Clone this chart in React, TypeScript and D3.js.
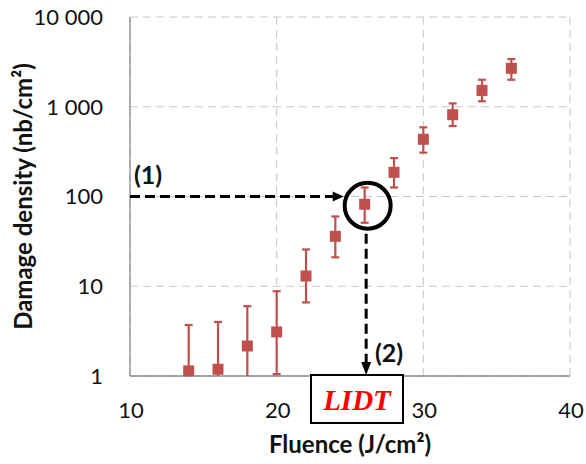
import React from "react";
import * as d3 from "d3";

// Fluence (J/cm²) of each test site and the measured damage density (nb/cm²)
const fluence = [14, 16, 18, 20, 22, 24, 26, 28, 30, 32, 34, 36];
const density = [1.14, 1.19, 2.16, 3.1, 13.0, 36, 82, 186, 434, 815, 1520, 2680];
const densityHigh = [3.7, 4.0, 6.0, 8.8, 25.7, 60, 126, 268, 590, 1090, 2000, 3400];
const densityLow = [0.5, 0.5, 0.5, 1.05, 6.6, 21, 51, 126, 308, 610, 1150, 2000];

const xTicks = [10, 20, 30, 40];
const yTicks = [1, 10, 100, 1000, 10000];

// Threshold read-out: density level (1) projected down to the fluence axis (2)
const thresholdDensity = 100;
const thresholdFluence = 26;

const W = 586;
const H = 464;
const M = { left: 130, right: 570, top: 17, bottom: 376 };

const RED = "#C0504D";
const GRID = "#C8C8C8";
const AXIS = "#8C8C8C";

export default function App() {
  const x = d3.scaleLinear().domain([10, 40]).range([M.left, M.right]);
  const y = d3.scaleLog().domain([1, 10000]).range([M.bottom, M.top]);
  const fmt = (v: number) => d3.format(",")(v).replace(/,/g, " ");

  const ay = y(thresholdDensity);
  const ax = x(thresholdFluence) + 1.5;
  const cx = x(thresholdFluence) + 3;
  const cy = y(density[fluence.indexOf(thresholdFluence)]) + 1.5;
  const r = 23;

  return (
    <div style={{ position: "absolute", left: 0, top: 0 }}>
      <svg width={W} height={H} style={{ display: "block", background: "#fff" }}>
        <defs>
          <clipPath id="plot-clip">
            <rect x={M.left} y={M.top - 5} width={M.right - M.left} height={M.bottom - M.top + 5} />
          </clipPath>
        </defs>

        {/* dashed grid */}
        {yTicks.map((t) => (
          <line key={"gy" + t} x1={M.left} x2={M.right} y1={y(t)} y2={y(t)}
            stroke={GRID} strokeWidth={1} strokeDasharray="8,5" />
        ))}
        {xTicks.map((t) => (
          <line key={"gx" + t} x1={x(t)} x2={x(t)} y1={M.top} y2={M.bottom}
            stroke={GRID} strokeWidth={1} strokeDasharray="8,5" />
        ))}

        {/* axes */}
        <line x1={M.left} x2={M.left} y1={M.top} y2={M.bottom} stroke={AXIS} strokeWidth={1.3} />
        <line x1={M.left} x2={M.right} y1={M.bottom} y2={M.bottom} stroke={AXIS} strokeWidth={1.3} />

        {/* tick labels */}
        {yTicks.map((t) => (
          <text key={"ty" + t} x={103} y={y(t)} dy="0.36em" textAnchor="end"
            fontFamily="Lato" fontSize={22} fill="#111">{fmt(t)}</text>
        ))}
        {xTicks.map((t) => (
          <text key={"tx" + t} x={x(t) + 1} y={418} textAnchor="middle"
            fontFamily="Lato" fontSize={22} fill="#111">{t}</text>
        ))}

        {/* axis titles */}
        <text x={(M.left + M.right) / 2} y={453} textAnchor="middle"
          fontFamily="Lato" fontWeight="bold" fontSize={24} fill="#111">Fluence (J/cm²)</text>
        <text transform={`translate(32,${(M.top + M.bottom) / 2}) rotate(-90)`} textAnchor="middle"
          fontFamily="Lato" fontWeight="bold" fontSize={24} fill="#111">Damage density (nb/cm²)</text>

        {/* error bars */}
        <g clipPath="url(#plot-clip)" stroke={RED} strokeWidth={2.2}>
          {fluence.map((f, i) => {
            const px = x(f);
            return (
              <g key={"e" + f}>
                <line x1={px} x2={px} y1={y(densityHigh[i])} y2={y(densityLow[i])} />
                <line x1={px - 4} x2={px + 4} y1={y(densityHigh[i])} y2={y(densityHigh[i])} />
                <line x1={px - 4} x2={px + 4} y1={y(densityLow[i])} y2={y(densityLow[i])} />
              </g>
            );
          })}
        </g>

        {/* markers */}
        {fluence.map((f, i) => (
          <rect key={"m" + f} x={x(f) - 5.5} y={y(density[i]) - 5.5} width={11} height={11} fill={RED} />
        ))}

        {/* (1) horizontal read-out arrow */}
        <line x1={M.left} x2={cx - r - 10} y1={ay} y2={ay} stroke="#000" strokeWidth={3} strokeDasharray="10,5" />
        <path d={`M${cx - r - 1},${ay} L${cx - r - 12},${ay - 5} L${cx - r - 12},${ay + 5} Z`} fill="#000" />
        <text x={134} y={184} fontFamily="Lato" fontWeight="bold" fontSize={25} fill="#111">(1)</text>

        {/* circled threshold point */}
        <circle cx={cx} cy={cy} r={r} fill="none" stroke="#000" strokeWidth={4} />

        {/* (2) vertical read-out arrow */}
        <line x1={ax} x2={ax} y1={cy + r + 5} y2={M.bottom - 12} stroke="#000" strokeWidth={3} strokeDasharray="10,5" />
        <path d={`M${ax},${M.bottom - 1} L${ax - 5},${M.bottom - 14} L${ax + 5},${M.bottom - 14} Z`} fill="#000" />
        <text x={375} y={362} fontFamily="Lato" fontWeight="bold" fontSize={25} fill="#111">(2)</text>

        {/* LIDT label box */}
        <rect x={311} y={375} width={92} height={48} fill="#fff" stroke="#000" strokeWidth={2} />
        <text x={357} y={410} textAnchor="middle" fontFamily="Liberation Serif" fontStyle="italic"
          fontWeight="bold" fontSize={29} fill="#FF0000">LIDT</text>
      </svg>
    </div>
  );
}
